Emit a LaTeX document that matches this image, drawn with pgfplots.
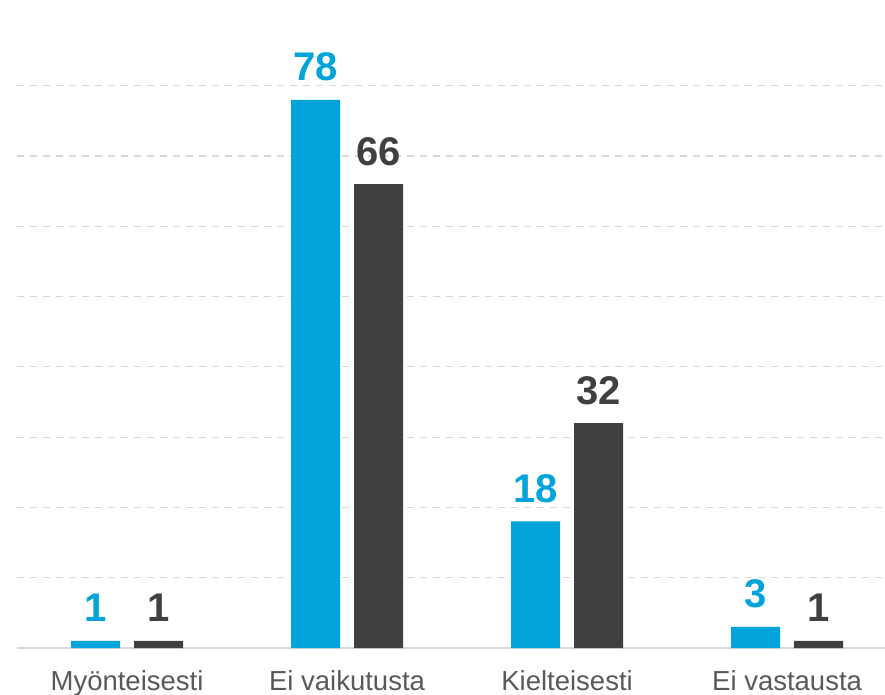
\documentclass[border=0pt]{standalone}
\usepackage{pgfplots}
\pgfplotsset{compat=1.18}
\usepackage{fontspec}
\setmainfont{Liberation Sans}
\usetikzlibrary{calc}
\definecolor{cblue}{HTML}{00A3DA}
\definecolor{cdark}{HTML}{404040}
\definecolor{cgrid}{HTML}{D9D9D9}
\definecolor{ctext}{HTML}{595959}
\begin{document}
\begin{tikzpicture}
\begin{axis}[
  name=ax,
  scale only axis,
  width=868pt, height=648pt,
  xmin=-0.5, xmax=3.445,
  ymin=0, ymax=92.2,
  axis line style={draw=none},
  ytick={10,20,...,80}, yticklabels={},
  extra y ticks={0}, extra y tick labels={},
  extra y tick style={grid style={solid, cgrid, line width=1.2pt}},
  ymajorgrids,
  grid style={cgrid, line width=1.2pt, dash pattern=on 7pt off 6pt},
  major tick length=0pt,
  xtick={0,1,2,3},
  xticklabels={Myönteisesti,Ei vaikutusta,Kielteisesti,Ei vastausta},
  xticklabel style={font=\fontsize{27.5}{27.5}\selectfont, text=ctext, anchor=base, yshift=-42pt},
  ybar, bar width=49pt,
  /pgf/number format/assume math mode=true,
  nodes near coords,
  clip=false,
]
\addplot[fill=cblue, draw=none, bar shift=-31.5pt,
  nodes near coords style={font=\fontsize{40}{40}\selectfont\bfseries, text=cblue, anchor=base, yshift=19pt}]
  coordinates {(0,1) (1,78) (2,18) (3,3)};
\addplot[fill=cdark, draw=none, bar shift=31.5pt,
  nodes near coords style={font=\fontsize{40}{40}\selectfont\bfseries, text=cdark, anchor=base, yshift=19pt}]
  coordinates {(0,1) (1,66) (2,32) (3,1)};
\end{axis}
\pgfresetboundingbox
\path[use as bounding box] ($(ax.south west)+(-17pt,-47pt)$) rectangle (ax.north east);
\end{tikzpicture}
\end{document}
